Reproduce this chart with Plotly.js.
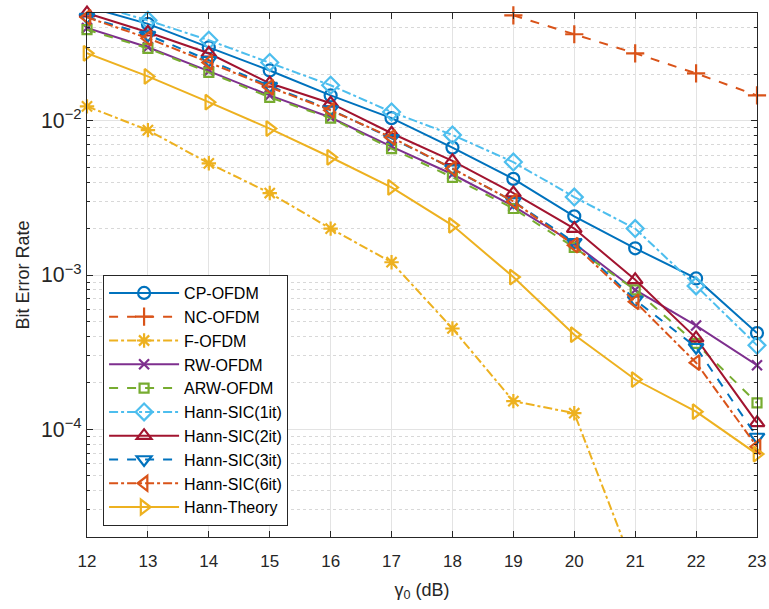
<!DOCTYPE html>
<html>
<head>
<meta charset="utf-8">
<script src="https://cdn.plot.ly/plotly-3.0.1.min.js"></script>
<style>html,body{margin:0;padding:0;background:#fff;}#chart{width:769px;height:609px;}</style>
</head>
<body>
<div id="chart"></div>
<script>
const gamma0 = [12, 13, 14, 15, 16, 17, 18, 19, 20, 21, 22, 23];
const seriesNames = ['CP-OFDM', 'NC-OFDM', 'F-OFDM', 'RW-OFDM', 'ARW-OFDM', 'Hann-SIC(1it)', 'Hann-SIC(2it)', 'Hann-SIC(3it)', 'Hann-SIC(6it)', 'Hann-Theory'];
const cpOfdm     = [0.055, 0.0425, 0.0299, 0.0212, 0.0146, 0.0104, 0.0067, 0.0042, 0.0024, 0.00149, 0.00095, 0.00042];
const ncOfdm     = [null, null, null, null, null, null, null, 0.0483, 0.0364, 0.0274, 0.0203, 0.0146];
const fOfdm      = [0.0124, 0.0087, 0.0053, 0.0034, 0.0020, 0.00121, 0.00045, 0.000152, 0.000127, 0.000012, null, null];
const rwOfdm     = [0.040, 0.030, 0.021, 0.0146, 0.0105, 0.0068, 0.0045, 0.0028, 0.0016, 0.0008, 0.00047, 0.00026];
const arwOfdm    = [0.039, 0.0295, 0.0206, 0.0142, 0.0104, 0.0066, 0.0043, 0.0027, 0.00151, 0.0008, 0.00036, 0.000148];
const hannSic1   = [0.058, 0.0448, 0.0333, 0.0239, 0.0170, 0.0114, 0.0081, 0.0054, 0.0032, 0.0020, 0.00085, 0.00035];
const hannSic2   = [0.0499, 0.0375, 0.0274, 0.0175, 0.0130, 0.0083, 0.0055, 0.0034, 0.0020, 0.00093, 0.00039, 0.00011];
const hannSic3   = [0.047, 0.036, 0.0247, 0.0168, 0.0118, 0.0077, 0.0049, 0.0030, 0.00163, 0.00069, 0.00034, 0.000089];
const hannSic6   = [0.0469, 0.0343, 0.0239, 0.0165, 0.0117, 0.0078, 0.0049, 0.0030, 0.00156, 0.00067, 0.00027, 0.000077];
const hannTheory = [0.0274, 0.0194, 0.0132, 0.0089, 0.0058, 0.0037, 0.0021, 0.00097, 0.00041, 0.00021, 0.00013, 0.000069];

const seriesValues = [cpOfdm, ncOfdm, fOfdm, rwOfdm, arwOfdm, hannSic1, hannSic2, hannSic3, hannSic6, hannTheory];
const colors  = ['#0072BD', '#D95319', '#EDB120', '#7E2F8E', '#77AC30', '#4DBEEE', '#A2142F', '#0072BD', '#D95319', '#EDB120'];
const dashes  = ['solid', 'dash', 'dashdot', 'solid', 'dash', 'dashdot', 'solid', 'dash', 'dashdot', 'solid'];
const symbols = ['circle-open', 'cross-thin-open', 'asterisk-open', 'x-thin-open', 'square-open', 'diamond-open', 'triangle-up-open', 'triangle-down-open', 'triangle-left-open', 'triangle-right-open'];
const sizes   = [12, 13, 12, 10, 9, 13, 13, 13, 13, 13];

const traces = seriesNames.map((name, i) => ({
  x: gamma0,
  y: seriesValues[i],
  name: name,
  type: 'scatter',
  mode: 'lines+markers',
  cliponaxis: false,
  line: {color: colors[i], width: 2, dash: dashes[i]},
  marker: {symbol: symbols[i], size: sizes[i], color: colors[i], line: {color: colors[i], width: 2.2}}
}));

const fontFam = '"Liberation Sans", Arial, Helvetica, sans-serif';
const layout = {
  width: 769, height: 609,
  margin: {l: 87, r: 12, t: 13, b: 72},
  paper_bgcolor: '#fff', plot_bgcolor: '#fff',
  font: {family: fontFam, size: 17, color: '#262626'},
  showlegend: true,
  xaxis: {
    range: [12, 23], dtick: 1, tick0: 12,
    showgrid: true, gridcolor: '#e3e3e3', gridwidth: 1,
    zeroline: false, showline: true, linecolor: '#262626', linewidth: 1, mirror: 'allticks',
    ticks: 'inside', ticklen: 6, tickcolor: '#262626', ticklabelstandoff: 9,
    tickfont: {family: fontFam, size: 17, color: '#262626'},
    title: {text: 'γ<sub>0</sub> (dB)', font: {family: fontFam, size: 18, color: '#262626'}, standoff: 12}
  },
  yaxis: {
    type: 'log', range: [Math.log10(2e-5), Math.log10(5e-2)], dtick: 1,
    exponentformat: 'power', showexponent: 'all',
    showgrid: true, gridcolor: '#e3e3e3', gridwidth: 1,
    zeroline: false, showline: true, linecolor: '#262626', linewidth: 1, mirror: 'allticks',
    ticks: 'inside', ticklen: 6, tickcolor: '#262626', ticklabelstandoff: 1,
    tickfont: {family: fontFam, size: 17, color: '#262626'},
    minor: {ticks: 'inside', ticklen: 3, tickcolor: '#262626', showgrid: true, gridcolor: '#d8d8d8', griddash: 'dot', gridwidth: 1},
    title: {text: 'Bit Error Rate', font: {family: fontFam, size: 18, color: '#262626'}, standoff: 6}
  },
  legend: {
    x: 0.024, y: 0.5, xanchor: 'left', yanchor: 'top',
    bgcolor: '#ffffff', bordercolor: '#262626', borderwidth: 1,
    font: {family: fontFam, size: 16, color: '#000'},
    tracegroupgap: 0, itemwidth: 70
  }
};

Plotly.newPlot('chart', traces, layout, {displayModeBar: false, staticPlot: true});
</script>
</body>
</html>
